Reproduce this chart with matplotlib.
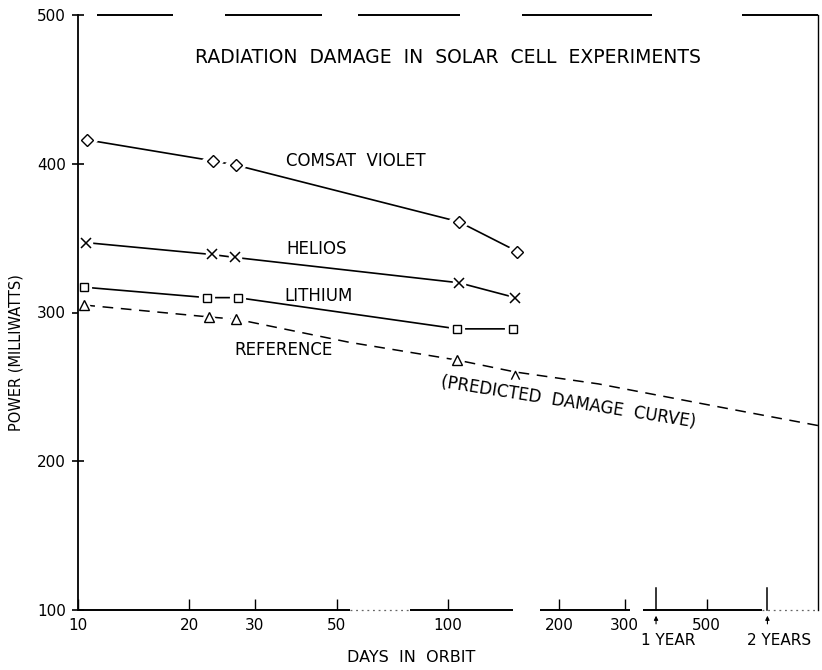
import matplotlib
matplotlib.use("Agg")
import matplotlib.pyplot as plt
from matplotlib.path import Path
import matplotlib.transforms as mtransforms

plt.rcParams['font.family'] = ['DejaVu Sans']

# ---- data ----
comsat_days = [10.6, 23.1, 26.8, 107, 154]
comsat_power = [416, 402, 399, 361, 341]

helios_days = [10.5, 23.0, 26.6, 107, 152]
helios_power = [347, 339, 337, 320, 310]

lithium_days = [10.4, 22.3, 27.0, 106, 150]
lithium_power = [317, 310, 310, 289, 289]

reference_days = [10.4, 22.6, 26.8, 106]
reference_power = [305, 297, 295.5, 268]
reference_last_day = [152]
reference_last_power = [258]

predicted_days = [10.4, 22.6, 26.8, 54, 106, 152, 255, 582, 1000]
predicted_power = [305, 297, 295.5, 280, 268, 260, 252, 235, 224]

x_ticks = [10, 20, 30, 50, 100, 200, 300, 500]
x_tick_labels = ["10", "20", "30", "50", "100", "200", "300", "500"]
y_ticks = [100, 200, 300, 400, 500]
year_days = [365, 730]
year_labels = ["1 YEAR", "2 YEARS"]

fig = plt.figure(figsize=(8.22, 6.70), dpi=100)
ax = fig.add_axes([78/822, 1-610/670, 740/822, 595/670])
ax.set_xscale('log')
ax.set_xlim(10, 1000)
ax.set_ylim(100, 500)

lw = 1.2
# predicted dashed curve
ax.plot(predicted_days, predicted_power, color='black', lw=1.1,
        linestyle=(0, (7, 5)), zorder=2)


def series(x, y, marker, ms, line=True):
    if line:
        ax.plot(x, y, color='black', lw=lw, zorder=2)
    ax.plot(x, y, linestyle='none', marker=marker, ms=ms + 3, mfc='white',
            mec='white', mew=3, zorder=3)
    ax.plot(x, y, linestyle='none', marker=marker, ms=ms, mfc='white',
            mec='black', mew=1.0, zorder=4)


series(comsat_days, comsat_power, 'D', 6.5)
ax.plot(helios_days, helios_power, color='black', lw=lw, zorder=2)
ax.plot(helios_days, helios_power, linestyle='none', marker='s', ms=9,
        mfc='white', mec='white', zorder=3)
ax.plot(helios_days, helios_power, linestyle='none', marker='x', ms=6.5,
        mec='black', mew=1.1, zorder=4)
series(lithium_days, lithium_power, 's', 6)
series(reference_days, reference_power, '^', 6.5, line=False)
caret = Path([(-1, -1), (0, 1), (1, -1)], [Path.MOVETO, Path.LINETO, Path.LINETO])
ax.plot(reference_last_day, reference_last_power, linestyle='none',
        marker=caret, ms=6, mfc='none', mec='black', mew=1.0, zorder=4)

# series labels
tkw = dict(color='black', fontsize=12, va='center', ha='left')
ax.text(36.4, 402, "COMSAT  VIOLET", **tkw)
ax.text(36.6, 343, "HELIOS", **tkw)
ax.text(36.2, 311, "LITHIUM", **tkw)
ax.text(26.5, 275, "REFERENCE", **tkw)
ax.text(212, 240, "(PREDICTED  DAMAGE  CURVE)", fontsize=12, ha='center',
        va='center', rotation=-9, rotation_mode='anchor')
ax.text(0.5, 0.928, "RADIATION  DAMAGE  IN  SOLAR  CELL  EXPERIMENTS",
        transform=ax.transAxes, ha='center', va='center', fontsize=13.5)

# axes
ax.set_xticks(x_ticks)
ax.set_xticklabels(x_tick_labels)
ax.xaxis.set_minor_locator(matplotlib.ticker.NullLocator())
ax.set_yticks(y_ticks)
ax.tick_params(axis='x', direction='in', length=8, width=1, labelsize=11, pad=6)
ax.tick_params(axis='y', direction='inout', length=9, width=1.2, labelsize=11, pad=4)
ax.set_xlabel("DAYS  IN  ORBIT", fontsize=11.5)
ax.xaxis.set_label_coords(0.45, -0.079)
ax.xaxis.label.set_va('center')
ax.set_ylabel("POWER (MILLIWATTS)", fontsize=10.5)
ax.yaxis.set_label_coords(-0.084, 0.432)
ax.yaxis.label.set_va('center')

for s in ['top', 'bottom']:
    ax.spines[s].set_visible(False)
ax.spines['left'].set_linewidth(1.3)
ax.spines['left'].set_zorder(6)
ax.spines['right'].set_linewidth(1.0)

# broken top border
top_segments = [(0.026, 0.128), (0.199, 0.330), (0.378, 0.516),
                (0.600, 0.776), (0.897, 1.0)]
for a, b in top_segments:
    ax.plot([a, b], [1, 1], transform=ax.transAxes, color='black', lw=1.4,
            clip_on=False, solid_capstyle='butt')
# broken bottom axis
bot_segments = [(0.0, 0.368), (0.449, 0.588), (0.624, 0.746), (0.764, 0.924)]
for a, b in bot_segments:
    ax.plot([a, b], [0, 0], transform=ax.transAxes, color='black', lw=1.4,
            clip_on=False, solid_capstyle='butt')
for a, b in [(0.368, 0.449), (0.924, 1.0)]:
    ax.plot([a, b], [0, 0], transform=ax.transAxes, color='0.4', lw=0.9,
            linestyle=(0, (1.5, 3)), clip_on=False)

# year markers
trans = mtransforms.blended_transform_factory(ax.transData, ax.transAxes)
text_trans = trans + mtransforms.ScaledTranslation(12/100, 0, fig.dpi_scale_trans)
for d, lab in zip(year_days, year_labels):
    ax.plot([d, d], [0, 0.037], transform=trans, color='black', lw=1.1,
            clip_on=False)
    ax.annotate("", xy=(d, -0.005), xytext=(d, -0.028), xycoords=trans,
                textcoords=trans,
                arrowprops=dict(arrowstyle='-|>', color='black', lw=0.8,
                                mutation_scale=6))
    ax.text(d, -0.052, lab, transform=text_trans, ha='center', va='center',
            fontsize=11)

fig.savefig("out.png", dpi=100)
